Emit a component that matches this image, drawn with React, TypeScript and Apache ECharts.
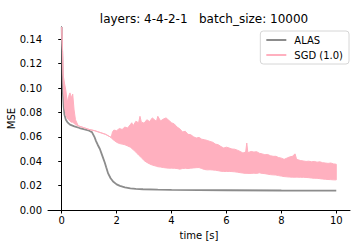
import React, { useEffect, useRef } from "react";
import * as echarts from "echarts";

const titleText = "layers: 4-4-2-1   batch_size: 10000";
const xTicks = [0, 2, 4, 6, 8, 10];
const yTicks = [0, 0.02, 0.04, 0.06, 0.08, 0.1, 0.12, 0.14];

// ALAS (grey line)
const alasT = [0, 0.02, 0.04, 0.07, 0.1, 0.15, 0.22, 0.3, 0.46, 0.65, 0.83, 1.0, 1.1, 1.19, 1.25, 1.31, 1.39, 1.47, 1.57, 1.62, 1.69, 1.78, 1.87, 2.0, 2.12, 2.3, 2.5, 2.7, 2.96, 3.5, 4, 5, 6, 8, 10];
const alasV = [0.15, 0.125, 0.097, 0.085, 0.078, 0.074, 0.0716, 0.07, 0.0686, 0.0672, 0.066, 0.065, 0.0638, 0.06, 0.0565, 0.0535, 0.05, 0.045, 0.0387, 0.035, 0.03, 0.026, 0.0233, 0.021, 0.0198, 0.0186, 0.0177, 0.0173, 0.017, 0.0167, 0.0165, 0.0163, 0.0162, 0.016, 0.0159];

// SGD (1.0): lower / upper envelope of the noisy trace
const sgdT = [0, 0.03, 0.05, 0.1, 0.15, 0.2, 0.25, 0.3, 0.35, 0.4, 0.45, 0.5, 0.6, 0.8, 1.0, 1.2, 1.4, 1.6, 1.8, 1.85, 1.9, 2.0, 2.1, 2.2, 2.3, 2.4, 2.5, 2.55, 2.6, 2.7, 2.8, 2.85, 2.9, 3.0, 3.1, 3.2, 3.3, 3.4, 3.45, 3.5, 3.6, 3.7, 3.8, 3.9, 4.0, 4.1, 4.2, 4.3, 4.4, 4.5, 4.6, 4.7, 4.8, 4.9, 5.0, 5.1, 5.2, 5.3, 5.4, 5.5, 5.6, 5.7, 5.8, 5.9, 6.0, 6.1, 6.2, 6.3, 6.4, 6.5, 6.6, 6.7, 6.74, 6.78, 6.9, 7.0, 7.1, 7.2, 7.3, 7.4, 7.5, 7.6, 7.7, 7.8, 7.9, 8.0, 8.1, 8.2, 8.3, 8.4, 8.5, 8.55, 8.6, 8.7, 8.8, 8.9, 9.0, 9.1, 9.2, 9.3, 9.4, 9.5, 9.6, 9.7, 9.8, 9.9, 10.0];
const sgdLow = [0.15, 0.13, 0.105, 0.085, 0.078, 0.075, 0.074, 0.073, 0.072, 0.072, 0.071, 0.07, 0.069, 0.0675, 0.066, 0.065, 0.0635, 0.062, 0.0595, 0.058, 0.0572, 0.0555, 0.0545, 0.054, 0.0535, 0.0525, 0.0515, 0.0505, 0.0495, 0.0475, 0.045, 0.044, 0.043, 0.0405, 0.039, 0.0378, 0.0368, 0.0362, 0.0358, 0.0355, 0.0352, 0.0348, 0.0345, 0.0343, 0.0343, 0.0342, 0.034, 0.0335, 0.034, 0.0342, 0.034, 0.0343, 0.0345, 0.0347, 0.0348, 0.034, 0.0332, 0.0329, 0.033, 0.0328, 0.0326, 0.0322, 0.0318, 0.0316, 0.0316, 0.0316, 0.0315, 0.0313, 0.031, 0.0306, 0.0303, 0.03, 0.03, 0.03, 0.03, 0.0302, 0.03, 0.0305, 0.03, 0.0298, 0.0294, 0.029, 0.0288, 0.0287, 0.0282, 0.0278, 0.0274, 0.0272, 0.027, 0.0269, 0.0269, 0.0269, 0.0269, 0.0268, 0.0268, 0.0267, 0.0265, 0.0262, 0.026, 0.026, 0.0257, 0.0254, 0.0252, 0.025, 0.0249, 0.0247, 0.0247];
const sgdHigh = [0.15, 0.13, 0.111, 0.104, 0.098, 0.088, 0.093, 0.096, 0.092, 0.095, 0.082, 0.074, 0.069, 0.0675, 0.066, 0.065, 0.0635, 0.062, 0.0595, 0.064, 0.0655, 0.065, 0.0668, 0.066, 0.068, 0.0672, 0.07, 0.0715, 0.069, 0.0727, 0.0715, 0.0768, 0.072, 0.0712, 0.074, 0.0725, 0.0755, 0.0735, 0.0727, 0.0768, 0.073, 0.0745, 0.0755, 0.0735, 0.0715, 0.0705, 0.068, 0.0665, 0.064, 0.0645, 0.062, 0.0617, 0.06, 0.059, 0.0595, 0.058, 0.0576, 0.057, 0.0562, 0.0555, 0.054, 0.0535, 0.052, 0.0508, 0.0515, 0.0508, 0.05, 0.0498, 0.049, 0.048, 0.0467, 0.0475, 0.0549, 0.047, 0.048, 0.0475, 0.0478, 0.0465, 0.046, 0.0453, 0.0455, 0.0445, 0.044, 0.044, 0.043, 0.0425, 0.0415, 0.0425, 0.0435, 0.044, 0.046, 0.042, 0.0412, 0.0405, 0.0402, 0.0398, 0.04, 0.0395, 0.0398, 0.0392, 0.0395, 0.0388, 0.0385, 0.0382, 0.0385, 0.0378, 0.0375];

const GREY = "#8c8c8c";
const PINK = "#ffb0bf";
const FONT = "DejaVu Sans";

export default function App() {
  const ref = useRef<HTMLDivElement>(null);
  useEffect(() => {
    document.body.style.margin = "0";
    if (!ref.current) return;
    const chart = echarts.init(ref.current, undefined, { renderer: "svg" });
    const alasData = alasT.map((t, i) => [t, alasV[i]]);
    const bandData = sgdT.map((t, i) => [t, sgdLow[i], sgdHigh[i]]);
    chart.setOption({
      animation: false,
      title: {
        text: titleText,
        left: 199,
        textAlign: "center",
        top: 8,
        textStyle: { fontFamily: FONT, fontSize: 12, fontWeight: "normal", color: "#000" },
      },
      legend: {
        data: [
          { name: "ALAS", icon: "rect", itemStyle: { color: GREY } },
          { name: "SGD (1.0)", icon: "rect", itemStyle: { color: PINK } },
        ],
        orient: "vertical",
        right: 11,
        top: 31,
        padding: [4, 6],
        itemGap: 5,
        itemWidth: 20,
        itemHeight: 2,
        borderColor: "#d6d6d6",
        borderWidth: 1,
        borderRadius: 3,
        backgroundColor: "rgba(255,255,255,0.85)",
        selectedMode: false,
        textStyle: { fontFamily: FONT, fontSize: 10, color: "#000", padding: [0, 0, 0, 3] },
      },
      grid: { left: 48, right: 10, top: 27, bottom: 42, containLabel: false, outerBoundsMode: "none" },
      xAxis: {
        type: "value",
        min: -0.5,
        max: 10.5,
        name: "time [s]",
        nameLocation: "middle",
        nameGap: 20,
        nameMoveOverlap: false,
        nameTextStyle: { fontFamily: FONT, fontSize: 10, color: "#000" },
        axisLine: { show: true, onZero: false, lineStyle: { color: "#000", width: 1 } },
        axisTick: { show: true, length: 3.5, lineStyle: { color: "#000" }, customValues: xTicks },
        axisLabel: { fontFamily: FONT, fontSize: 10, color: "#000", margin: 5, customValues: xTicks, formatter: (v: number) => String(v) },
        splitLine: { show: false },
      },
      yAxis: {
        type: "value",
        min: 0,
        max: 0.15,
        name: "MSE",
        nameLocation: "middle",
        nameGap: 32,
        nameMoveOverlap: false,
        nameTextStyle: { fontFamily: FONT, fontSize: 10, color: "#000" },
        axisLine: { show: true, lineStyle: { color: "#000", width: 1 } },
        axisTick: { show: true, length: 3.5, lineStyle: { color: "#000" }, customValues: yTicks },
        axisLabel: { fontFamily: FONT, fontSize: 10, color: "#000", margin: 6, customValues: yTicks, formatter: (v: number) => v.toFixed(2) },
        splitLine: { show: false },
      },
      series: [
        {
          name: "ALAS",
          type: "line",
          data: alasData,
          showSymbol: false,
          symbol: "none",
          lineStyle: { color: GREY, width: 1.8 },
          itemStyle: { color: GREY },
          z: 2,
        },
        {
          name: "SGD (1.0)",
          type: "custom",
          data: bandData,
          encode: { x: 0, y: [1, 2] },
          clip: true,
          itemStyle: { color: PINK },
          z: 3,
          renderItem: (params: any, api: any) => {
            if (params.dataIndex !== 0) return null;
            const upper = bandData.map((d) => api.coord([d[0], d[2]]));
            const lower = bandData.map((d) => api.coord([d[0], d[1]])).reverse();
            return {
              type: "polygon",
              shape: { points: upper.concat(lower) },
              style: { fill: PINK, stroke: PINK, lineWidth: 1, lineJoin: "miter" },
            };
          },
        },
      ],
    });
    return () => chart.dispose();
  }, []);
  return <div ref={ref} style={{ width: 360, height: 252 }} />;
}
